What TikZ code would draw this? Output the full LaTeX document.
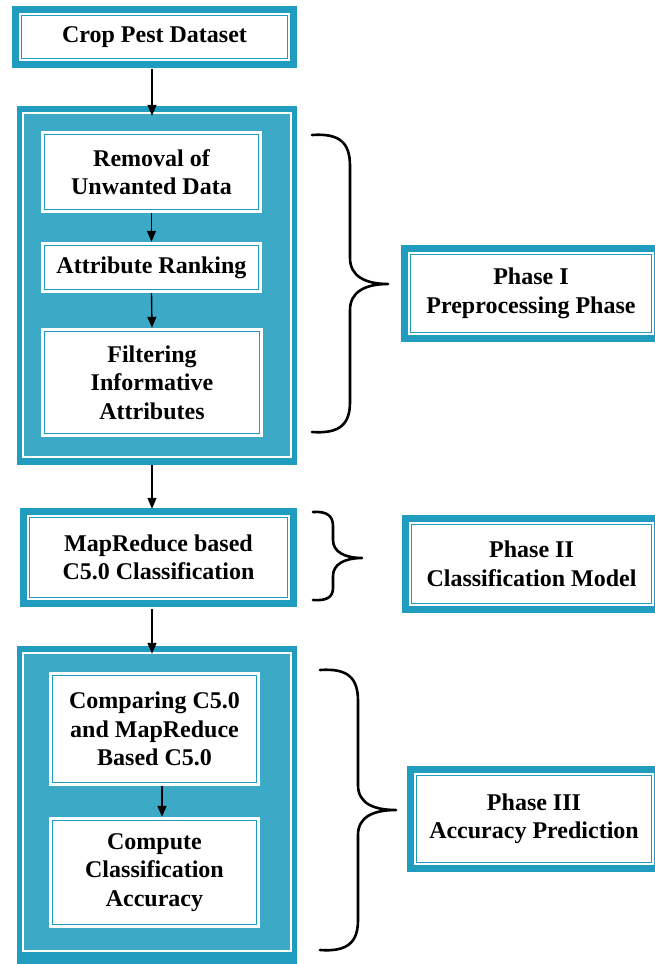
\documentclass[tikz,border=0pt]{standalone}
\usepackage{fontspec}
\setmainfont{Liberation Serif}
\usetikzlibrary{arrows.meta}
\definecolor{tealA}{RGB}{60,170,198}
\definecolor{tealB}{RGB}{32,156,190}
\tikzset{
  txt/.style={inner sep=0pt, align=center, font=\bfseries\fontsize{24}{28.5}\selectfont},
  framebox/.style={txt, fill=tealB,
    path picture={
      \fill[white] ([shift={(7pt,-7pt)}]path picture bounding box.north west) rectangle ([shift={(-7pt,7pt)}]path picture bounding box.south east);
      \draw[tealB, line width=1.3pt] ([shift={(9.5pt,-9.5pt)}]path picture bounding box.north west) rectangle ([shift={(-9.5pt,9.5pt)}]path picture bounding box.south east);
    }},
  container/.style={inner sep=0pt, fill=tealB,
    path picture={
      \draw[white, fill=tealA, line width=2pt] ([shift={(6pt,-7pt)}]path picture bounding box.north west) rectangle ([shift={(-6pt,#1)}]path picture bounding box.south east);
    }},
  container/.default=8pt,
  innerbox/.style={txt, fill=white,
    path picture={
      \draw[tealB, line width=1pt] ([shift={(3.5pt,-3.5pt)}]path picture bounding box.north west) rectangle ([shift={(-3.5pt,3.5pt)}]path picture bounding box.south east);
    }},
  arr/.style={-{Triangle[length=11pt,width=9pt]}, line width=1.4pt, black},
  bracestyle/.style={line width=2.6pt, black, line cap=round, line join=round}
}
\begin{document}
\begin{tikzpicture}[x=1pt,y=-1pt]
\useasboundingbox (0,0) rectangle (655,964);
% left column
\node[framebox, minimum width=285pt, minimum height=62pt] (crop) at (154.5,37) {Crop Pest Dataset};
\node[container, minimum width=280pt, minimum height=359pt] (c1) at (157,285.5) {};
\node[innerbox, minimum width=221pt, minimum height=82pt] (rem) at (151.5,172) {Removal of\\Unwanted Data};
\node[innerbox, minimum width=221pt, minimum height=51pt] (att) at (151.5,267.5) {Attribute Ranking};
\node[innerbox, minimum width=222pt, minimum height=109pt] (fil) at (152,382.5) {Filtering\\Informative\\Attributes};
\node[framebox, minimum width=277pt, minimum height=99pt] (map) at (158.5,557.5) {MapReduce based\\C5.0 Classification};
\node[container=15pt, minimum width=280pt, minimum height=320pt] (c3) at (157,806) {};
\node[innerbox, minimum width=211pt, minimum height=114pt] (cmp) at (154.5,729) {Comparing C5.0\\and MapReduce\\Based C5.0};
\node[innerbox, minimum width=211pt, minimum height=111pt] (acc) at (154.5,872.5) {Compute\\Classification\\Accuracy};
% right column
\node[framebox, minimum width=260pt, minimum height=97pt] (p1) at (531,293.5) {Phase I\\Preprocessing Phase};
\node[framebox, minimum width=259pt, minimum height=98pt] (p2) at (531.5,564) {Phase II\\Classification Model};
\node[framebox, minimum width=254pt, minimum height=106pt] (p3) at (534,819) {Phase III\\Accuracy Prediction};
% arrows
\draw[arr] ([xshift=-2.5pt,yshift=-1pt]crop.south) -- ([xshift=-5pt,yshift=-10pt]c1.north);
\draw[arr] (rem.south) -- (att.north);
\draw[arr] (att.south) -- (fil.north);
\draw[arr] ([xshift=-5pt]c1.south) -- ([xshift=-6.5pt,yshift=-1pt]map.north);
\draw[arr] ([xshift=-6.5pt,yshift=-2pt]map.south) -- ([xshift=-5pt,yshift=-8pt]c3.north);
\draw[arr] ([xshift=7.5pt]cmp.south) -- ([xshift=7.5pt]acc.north);
% braces
\draw[bracestyle] (312,135) .. controls (340,133) and (350,143) .. (350,166) -- (350,258)
  .. controls (350,276) and (365,284) .. (388,284)
  .. controls (365,284) and (350,292) .. (350,310) -- (350,402)
  .. controls (350,424) and (340,434) .. (312,432);
\draw[bracestyle] (313,512) .. controls (327,511) and (333,516) .. (333,526) -- (333,540)
  .. controls (333,552) and (345,558) .. (362,558)
  .. controls (345,558) and (333,564) .. (333,576) -- (333,588)
  .. controls (333,597) and (327,601) .. (313,600);
\draw[bracestyle] (320,670) .. controls (348,668) and (358,678) .. (358,701) -- (358,785)
  .. controls (358,803) and (373,810) .. (396,810)
  .. controls (373,810) and (358,817) .. (358,835) -- (358,920)
  .. controls (358,942) and (348,952) .. (320,950);
\end{tikzpicture}
\end{document}
